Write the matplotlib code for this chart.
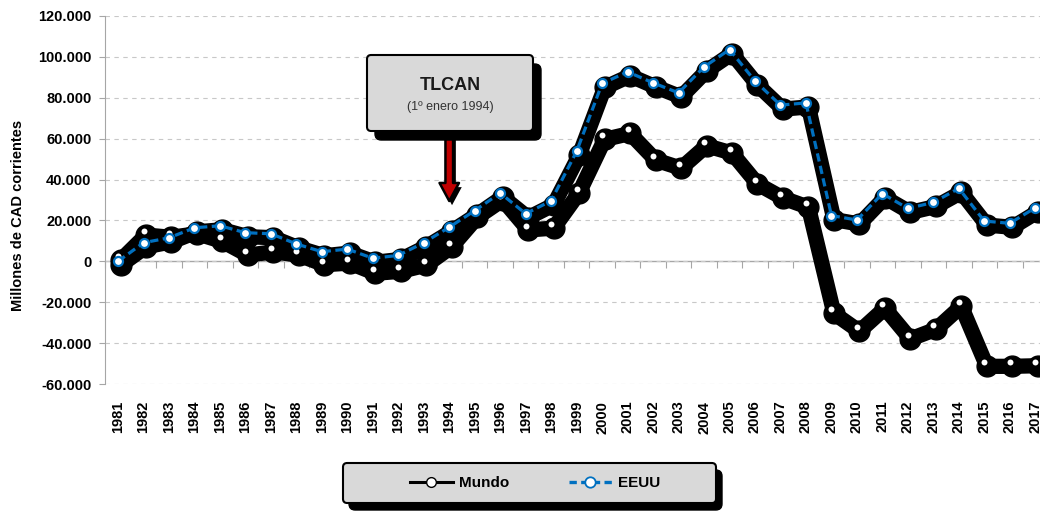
# Balanza comercial de Canadá: Mundo vs EEUU, 1981-2017

import numpy as np
import matplotlib.pyplot as plt
import matplotlib.transforms as mtransforms
import matplotlib.patheffects as pe
from matplotlib.patches import FancyBboxPatch
from matplotlib.lines import Line2D

years = list(range(1981, 2018))
mundo = [2500, 14800, 13700, 15500, 11700, 5000, 6600, 5000, 300, 1100,
         -3900, -2900, 100, 9100, 23500, 32000, 17300, 18200, 35500, 61600,
         64500, 51500, 47500, 58500, 54900, 39800, 32900, 28400, -23500, -32300,
         -21000, -36000, -31300, -20000, -49400, -49400, -49100]
eeuu = [0, 9100, 11500, 16400, 17400, 14000, 13500, 8500, 4700, 6000,
        1500, 2900, 9100, 16700, 24800, 33400, 23300, 29600, 53800, 87000,
        92700, 87300, 82400, 95100, 103600, 88200, 76400, 77500, 22400, 20200,
        33100, 25900, 28800, 35700, 19700, 18600, 26200]
yticks = list(range(-60000, 120001, 20000))
event_year = 1994

plt.rcParams['font.family'] = ['Liberation Sans', 'DejaVu Sans']
plt.rcParams['font.weight'] = 'bold'

blue = '#0070C0'
gray_axis = '#a6a6a6'

fig = plt.figure(figsize=(10.4, 5.12), dpi=100)
ax = fig.add_axes([105.3 / 1040, 128 / 512, (1048 - 105.3) / 1040, 368 / 512])

x = np.arange(len(years))

# heavy black shadows under both series
shadow_tr = mtransforms.offset_copy(ax.transData, fig=fig, x=2.5, y=-4, units='dots')
for serie in (mundo, eeuu):
    ax.plot(x, serie, color='black', lw=11, marker='o', ms=15, mfc='black', mec='black',
            solid_joinstyle='round', solid_capstyle='round', transform=shadow_tr, zorder=3)

ax.plot(x, mundo, color='black', lw=2.5, marker='o', ms=5.5, mfc='white', mec='black',
        mew=1.2, zorder=4)
ax.plot(x, eeuu, color=blue, lw=2.3, ls=(0, (2.6, 1.4)), marker='o', ms=6.5, mfc='white',
        mec=blue, mew=1.6, zorder=5)

ax.set_xlim(-0.5, len(years) - 0.5)
ax.set_ylim(-60000, 120000)
ax.set_yticks(yticks)
ax.set_yticklabels([f"{v:,.0f}".replace(',', '.') for v in yticks])
ax.set_xticks(x)
ax.set_xticklabels([str(y) for y in years], rotation=90)

ax.tick_params(axis='x', length=0, pad=12, labelsize=10.5)
ax.tick_params(axis='y', length=4, color=gray_axis, pad=6, labelsize=10.5)
for s in ('top', 'right', 'bottom'):
    ax.spines[s].set_visible(False)
ax.spines['left'].set_color(gray_axis)

ax.yaxis.grid(True, linestyle=(0, (4, 4)), color='#c8c8c8', lw=0.8)
ax.set_axisbelow(True)

# category axis line crossing at 0
sec = ax.secondary_xaxis(1 / 3)
sec.set_xticks(np.arange(-0.5, len(years), 1))
sec.set_xticklabels([])
sec.tick_params(length=5, color=gray_axis, direction='out')
sec.spines['bottom'].set_color(gray_axis)
sec.spines['bottom'].set_linewidth(1)

ax.set_ylabel('Millones de CAD corrientes', fontsize=10.5, fontweight='bold')
ax.yaxis.set_label_coords(-0.085, 0.459)

# TLCAN callout
asp = 1040 / 512
fig.patches.append(FancyBboxPatch((375 / 1040, 1 - 140 / 512), 166 / 1040, 76 / 512,
                                  boxstyle='round,pad=0,rounding_size=0.006', mutation_aspect=asp,
                                  fc='black', ec='black', transform=fig.transFigure, figure=fig))
fig.patches.append(FancyBboxPatch((367 / 1040, 1 - 131 / 512), 166 / 1040, 76 / 512,
                                  boxstyle='round,pad=0,rounding_size=0.004', mutation_aspect=asp,
                                  fc='#d9d9d9', ec='black', lw=1.5, transform=fig.transFigure,
                                  figure=fig))
fig.text(450 / 1040, 1 - 86 / 512, 'TLCAN', ha='center', va='center', fontsize=13,
         fontweight='bold', color='#1a1a1a')
fig.text(450 / 1040, 1 - 107 / 512, '(1º enero 1994)', ha='center', va='center', fontsize=9,
         fontweight='normal', color='#333333')

i_event = years.index(event_year)
arr = ax.annotate('', xy=(i_event, 29500), xytext=(i_event, 64000),
                  arrowprops=dict(arrowstyle='simple,head_length=1.3,head_width=1.4,tail_width=0.55',
                                  mutation_scale=10, fc='#C00000', ec='black', lw=1.8,
                                  shrinkA=0, shrinkB=0))
arr.arrow_patch.set_path_effects([pe.SimplePatchShadow(offset=(2, -3), shadow_rgbFace='black',
                                                       alpha=1), pe.Normal()])

# legend box
fig.patches.append(FancyBboxPatch((349 / 1040, 1 - 510 / 512), 373 / 1040, 40 / 512,
                                  boxstyle='round,pad=0,rounding_size=0.006', mutation_aspect=asp,
                                  fc='black', ec='black', transform=fig.transFigure, figure=fig))
fig.patches.append(FancyBboxPatch((343 / 1040, 1 - 503 / 512), 373 / 1040, 40 / 512,
                                  boxstyle='round,pad=0,rounding_size=0.004', mutation_aspect=asp,
                                  fc='#d9d9d9', ec='black', lw=1.5, transform=fig.transFigure,
                                  figure=fig))
handles = [Line2D([], [], color='black', lw=2.2, marker='o', ms=7, mfc='white', mec='black', mew=1),
           Line2D([], [], color=blue, lw=2.4, ls=(0, (2.2, 1.3)), marker='o', ms=7.5, mfc='white',
                  mec=blue, mew=1.3)]
fig.legend(handles, ['Mundo', 'EEUU'], loc='center', bbox_to_anchor=(535 / 1040, 1 - 483 / 512),
           ncol=2, frameon=False, handlelength=2.8, handletextpad=0.4, columnspacing=3.9,
           prop={'size': 11, 'weight': 'bold'})

fig.savefig('out.png', dpi=100)
